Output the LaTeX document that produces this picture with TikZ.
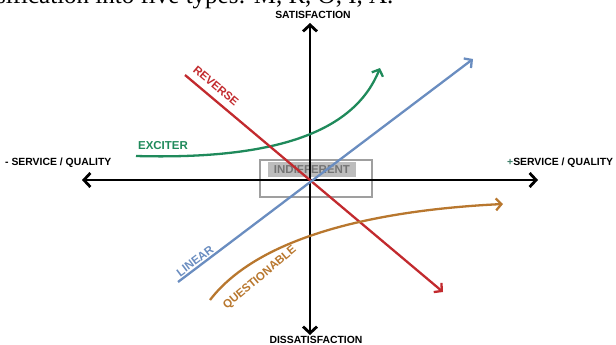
\documentclass[tikz,border=0pt]{standalone}
\usepackage{fontspec}
\setmainfont{Liberation Serif}
\newfontfamily\kanofont{Liberation Sans}
\usepackage{xcolor}
\usetikzlibrary{positioning,arrows.meta,calc}
\definecolor{revred}{HTML}{C22A2E}
\definecolor{excgreen}{HTML}{1F8A5B}
\definecolor{linblue}{HTML}{6A8DC0}
\definecolor{queorange}{HTML}{B8772E}
\definecolor{indgray}{HTML}{BDBDBD}
\definecolor{indtext}{HTML}{747474}
\definecolor{plusgreen}{HTML}{3F7F6A}

\begin{document}
\begin{tikzpicture}[x=1pt,y=-1pt,
  axis/.style={line width=2.8pt, -{Straight Barb[length=6.5pt,width=14pt]}},
  curve/.style={line width=2.3pt, -{Straight Barb[length=5.5pt,width=12pt]}},
  axislabel/.style={font=\kanofont\bfseries\fontsize{10.4}{12}\selectfont, inner sep=0pt},
  curvelabel/.style={font=\kanofont\bfseries\fontsize{11.5}{13}\selectfont, inner sep=0pt}]
\useasboundingbox (0,0) rectangle (616,345);
% Cut-off line of text above the figure
\begin{scope}
\clip (0,0) rectangle (616,345);
\node[anchor=base west, inner sep=0pt, font=\fontsize{25}{28}\selectfont] (caption) at (-4,3.5) {sification into five types: M, R, O, I, A.};
\end{scope}
% Axis end points
\coordinate (top) at (310,23);
\coordinate (bottom) at (310,335);
\coordinate (left) at (82,180);
\coordinate (right) at (538,180);
\coordinate (origin) at (310,180);
% Indifferent zone
\draw[line width=1.6pt, gray!75] (260,160) rectangle (372,197);
\fill[indgray] (268,162) rectangle (356,177);
\node[curvelabel, text=indtext] (indifferent) at (312,169.5) {INDIFFERENT};
% Axes
\draw[axis] (origin) -- (top);
\draw[axis] (origin) -- (bottom);
\draw[axis] (origin) -- (left);
\draw[axis] (origin) -- (right);
\node[axislabel] (satisfaction) at (313,15) {SATISFACTION};
\node[axislabel] (dissatisfaction) at (316,340) {DISSATISFACTION};
\node[axislabel, anchor=west] (minusq) at (5,163) {- SERVICE / QUALITY};
\node[axislabel, anchor=west] (plusq) at (507,163) {\textcolor{plusgreen}{+}SERVICE / QUALITY};
% Exciter (green)
\coordinate (excstart) at (136,156);
\coordinate (excend) at (380,68);
\draw[curve, excgreen] (excstart) .. controls (280,160) and (355,130) .. (excend);
\node[curvelabel, text=excgreen] (exciter) at (163,146) {EXCITER};
% Reverse (red)
\coordinate (revstart) at (185,75);
\coordinate (revend) at (443,292);
\draw[curve, revred] (revstart) -- (revend);
\node[curvelabel, text=revred, rotate=-40] (reverse) at (216,86) {REVERSE};
% Linear (blue)
\coordinate (linstart) at (178,282);
\coordinate (linend) at (473,59);
\draw[curve, linblue] (linstart) -- (linend);
\node[curvelabel, text=linblue, rotate=37] (linear) at (195,261) {LINEAR};
% Questionable (orange)
\coordinate (questart) at (210,300);
\coordinate (queend) at (503,204);
\draw[curve, queorange] (questart) .. controls (260,235) and (380,210) .. (queend);
\node[curvelabel, text=queorange, rotate=40] (questionable) at (260,278) {QUESTIONABLE};
\end{tikzpicture}
\end{document}
